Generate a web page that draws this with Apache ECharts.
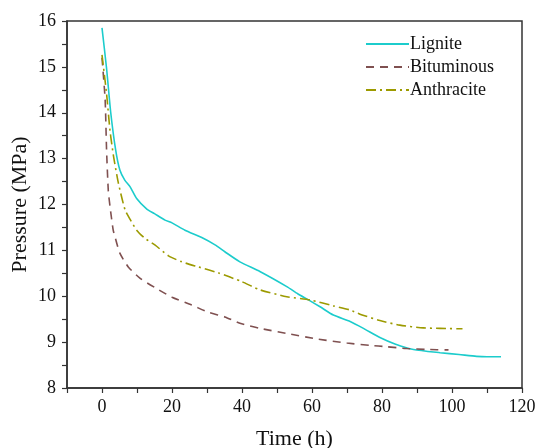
<!DOCTYPE html>
<html>
<head>
<meta charset="utf-8">
<script src="https://cdn.jsdelivr.net/npm/echarts@6/dist/echarts.min.js"></script>
<style>
  html, body { margin: 0; padding: 0; background: #fff; }
  #chart { width: 539px; height: 448px; }
</style>
</head>
<body>
<div id="chart"></div>
<script>
// time (h) / pressure (MPa)
const ligniteTime = [0, 1.3, 2.5, 3.9, 5.1, 6.5, 8, 9.9, 12.8, 15, 18, 20, 23.7, 28.5, 32.3, 35.1, 39.4, 45.1, 52.8, 56, 59, 62.3, 66.1, 70.9, 74.7, 79.4, 83.7, 89, 96.6, 102, 107, 110, 114]
const lignitePressure = [15.85, 14.97, 14.0, 13.19, 12.75, 12.53, 12.39, 12.13, 11.9, 11.8, 11.66, 11.6, 11.44, 11.28, 11.12, 10.97, 10.75, 10.54, 10.21, 10.05, 9.92, 9.77, 9.59, 9.45, 9.3, 9.1, 8.96, 8.84, 8.77, 8.73, 8.69, 8.68, 8.68]

const bitumTime = [0, 0.9, 1.3, 1.8, 2.3, 3.2, 3.7, 5.1, 7.5, 10.9, 15.1, 20, 25.6, 30.4, 35.1, 39.4, 45.1, 52.8, 61.3, 70, 76.6, 81.3, 87, 92.8, 99]
const bitumPressure = [15.2, 14.28, 13.2, 12.3, 11.95, 11.44, 11.3, 10.94, 10.64, 10.39, 10.19, 9.98, 9.81, 9.65, 9.55, 9.41, 9.3, 9.19, 9.07, 8.98, 8.93, 8.9, 8.86, 8.84, 8.83]

const anthTime = [0, 1.3, 2.3, 3.3, 4.7, 6.6, 8, 9.9, 12.3, 15.1, 19, 22.8, 27.5, 33.2, 39.9, 45.1, 52.8, 59.4, 66.1, 70.9, 73.7, 79.4, 85.1, 91.8, 96.6, 103]
const anthPressure = [15.26, 14.42, 13.6, 13.05, 12.46, 11.88, 11.68, 11.44, 11.26, 11.12, 10.88, 10.75, 10.64, 10.51, 10.32, 10.14, 9.99, 9.92, 9.79, 9.7, 9.61, 9.47, 9.37, 9.31, 9.3, 9.29]

const seriesNames = ['Lignite', 'Bituminous', 'Anthracite']

const font = "'Liberation Serif', 'Times New Roman', serif"
const pair = (xs, ys) => xs.map((x, i) => [x, ys[i]])

const chart = echarts.init(document.getElementById('chart'))

chart.setOption({
  animation: false,
  textStyle: { fontFamily: font },
  grid: {
    left: 67, right: 17, top: 21, bottom: 60,
    outerBoundsMode: 'none',
    containLabel: false,
    show: true,
    borderColor: '#333',
    borderWidth: 1.5
  },
  legend: {
    orient: 'vertical',
    left: 360,
    top: 30,
    itemWidth: 43,
    itemHeight: 14,
    itemGap: 5,
    data: seriesNames,
    itemStyle: { opacity: 0 },
    textStyle: { fontFamily: font, fontSize: 18, color: '#111', padding: [0, 0, 0, -4] }
  },
  xAxis: {
    type: 'value',
    min: -10, max: 120, interval: 10,
    name: 'Time (h)',
    nameLocation: 'middle',
    nameGap: 40,
    nameMoveOverlap: false,
    nameTextStyle: { fontFamily: font, fontSize: 22, color: '#111' },
    axisLine: { onZero: false, lineStyle: { color: '#333', width: 1.5 } },
    axisTick: { length: 5, lineStyle: { color: '#333', width: 1.2 } },
    axisLabel: {
      fontFamily: font, fontSize: 18, color: '#111', margin: 10,
      formatter: v => (v >= 0 && v % 20 === 0) ? String(v) : ''
    },
    splitLine: { show: false }
  },
  yAxis: {
    type: 'value',
    min: 8, max: 16, interval: 0.5,
    name: 'Pressure (MPa)',
    nameLocation: 'middle',
    nameGap: 36,
    nameMoveOverlap: false,
    nameTextStyle: { fontFamily: font, fontSize: 22, color: '#111' },
    axisLine: { show: true, onZero: false, lineStyle: { color: '#333', width: 1.5 } },
    axisTick: { show: true, length: 5, lineStyle: { color: '#333', width: 1.2 } },
    axisLabel: {
      fontFamily: font, fontSize: 18, color: '#111', margin: 11,
      formatter: v => Number.isInteger(v) ? String(v) : ''
    },
    splitLine: { show: false }
  },
  series: [
    {
      name: 'Lignite',
      type: 'line',
      data: pair(ligniteTime, lignitePressure),
      showSymbol: false,
      symbol: 'none',
      smooth: 0.2,
      color: '#1ccccc',
      lineStyle: { color: '#1ccccc', width: 1.6 }
    },
    {
      name: 'Bituminous',
      type: 'line',
      data: pair(bitumTime, bitumPressure),
      showSymbol: false,
      symbol: 'none',
      smooth: 0.2,
      color: '#7f5050',
      lineStyle: { color: '#7f5050', width: 1.6, type: [8, 6] }
    },
    {
      name: 'Anthracite',
      type: 'line',
      data: pair(anthTime, anthPressure),
      showSymbol: false,
      symbol: 'none',
      smooth: 0.2,
      color: '#9c9a00',
      lineStyle: { color: '#9c9a00', width: 1.6, type: [10, 4, 2, 4] }
    }
  ]
})
</script>
</body>
</html>
